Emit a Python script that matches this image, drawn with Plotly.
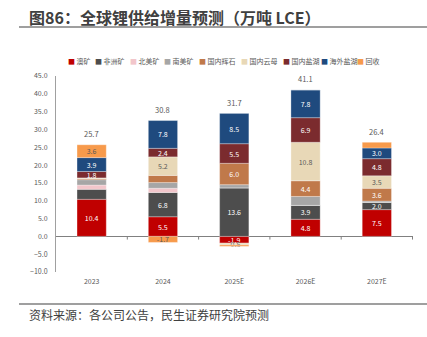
import plotly.graph_objects as go

years = ['2023', '2024', '2025E', '2026E', '2027E']
series_names = ['澳矿', '非洲矿', '北美矿', '南美矿', '国内辉石', '国内云母', '国内盐湖', '海外盐湖', '回收']
aus = [10.4, 5.5, -1.9, 4.8, 7.5]
africa = [2.8, 6.8, 13.6, 3.9, 2.0]
north_am = [1.2, 1.2, 0.0, 0.0, 0.0]
south_am = [1.5, 1.6, 0.9, 2.5, 0.4]
dom_spod = [0.3, 2.0, 6.0, 4.4, 3.6]
dom_mica = [0.2, 5.2, -0.5, 10.8, 3.5]
dom_salt = [1.8, 2.4, 5.5, 6.9, 4.8]
ovs_salt = [3.9, 7.8, 8.5, 7.8, 3.0]
recycle = [3.6, -1.7, -0.4, 0.0, 1.6]
totals = [25.7, 30.8, 31.7, 41.1, 26.4]

# which segment values carry a data label in the original
label_mask = [
    [1, 1, 1, 1, 1],
    [0, 1, 1, 1, 1],
    [0, 0, 0, 0, 0],
    [0, 0, 0, 0, 0],
    [0, 0, 1, 1, 1],
    [0, 1, 1, 1, 1],
    [1, 1, 1, 1, 1],
    [1, 1, 1, 1, 1],
    [1, 1, 0, 0, 0],
]

series = [aus, africa, north_am, south_am, dom_spod, dom_mica, dom_salt, ovs_salt, recycle]
colors = ['#C00000', '#4D4D4D', '#F2C6CB', '#A6A6A6', '#C0794A', '#E8D8B7', '#7B2B2E', '#1F4A7E', '#F79A4B']
text_colors = ['#FFFFFF', '#FFFFFF', '#595959', '#FFFFFF', '#FFFFFF', '#595959', '#FFFFFF', '#FFFFFF', '#595959']

FONT = 'Noto Sans CJK SC'
fig = go.Figure()
for name, vals, col, tcol, mask in zip(series_names, series, colors, text_colors, label_mask):
    txt = [f'{v:.1f}' if m else '' for v, m in zip(vals, mask)]
    fig.add_trace(go.Bar(
        x=years, y=vals, name=name, marker=dict(color=col, line=dict(color='rgba(255,255,255,0.6)', width=0.5)),
        text=txt, textposition='inside', insidetextanchor='middle', textangle=0,
        textfont=dict(size=7, color=tcol, family=FONT), showlegend=False, hoverinfo='skip'))

L, R, T, B = 56, 14, 76, 65
W, H = 427, 337
PW, PH = W - L - R, H - T - B

def px_x(px):
    return (px - L) / PW

def px_y(py):
    return (H - B - py) / PH

annotations = []
# total labels above the positive stack
pos_top = [sum(max(s[i], 0) for s in series) for i in range(len(years))]
for i, (top, tot) in enumerate(zip(pos_top, totals)):
    annotations.append(dict(
        xref='x', yref='y', x=i, y=top, yanchor='middle', yshift=11, showarrow=False,
        text=f'{tot:.1f}', font=dict(size=7.5, color='#595959', family=FONT)))
# manual legend
legend_x_px = [66, 93, 128, 162, 197, 239, 281, 319, 355]
for name, col, lx in zip(series_names, colors, legend_x_px):
    annotations.append(dict(
        xref='paper', yref='paper', x=px_x(lx), y=px_y(61), xanchor='left', yanchor='middle',
        text=f'<span style="color:{col}">■</span><span style="color:#595959"> {name}</span>',
        showarrow=False, font=dict(size=7, family=FONT)))
# title
annotations.append(dict(
    xref='paper', yref='paper', x=px_x(27), y=px_y(17), xanchor='left', yanchor='middle',
    text='<b>图86：全球锂供给增量预测（万吨 LCE）</b>', showarrow=False,
    font=dict(size=16, color='#404040', family=FONT)))
# source
annotations.append(dict(
    xref='paper', yref='paper', x=px_x(27), y=px_y(314), xanchor='left', yanchor='middle',
    text='资料来源：各公司公告，民生证券研究院预测', showarrow=False,
    font=dict(size=12, color='#404040', family=FONT)))

shapes = [
    dict(type='line', xref='paper', yref='paper', x0=px_x(19), x1=px_x(427), y0=px_y(27), y1=px_y(27),
         line=dict(color='#7F7F7F', width=1.5)),
    dict(type='line', xref='paper', yref='paper', x0=px_x(19), x1=px_x(427), y0=px_y(304), y1=px_y(304),
         line=dict(color='#7F7F7F', width=1.5)),
]
for i in range(len(years)):
    shapes.append(dict(type='line', xref='x', yref='y', x0=i + 0.5, x1=i + 0.5, y0=0, y1=-0.9,
                       line=dict(color='#808080', width=1)))

fig.update_layout(
    width=W, height=H, margin=dict(l=L, r=R, t=T, b=B),
    barmode='relative', bargap=0.59,
    plot_bgcolor='white', paper_bgcolor='white',
    font=dict(family=FONT, color='#595959'),
    uniformtext=dict(minsize=7, mode='show'),
    annotations=annotations, shapes=shapes,
    xaxis=dict(type='category', showgrid=False, showline=False, ticks='',
               tickfont=dict(size=7, color='#595959'), ticklabelstandoff=4),
    yaxis=dict(range=[-10, 45], dtick=5, tickformat='.1f', showgrid=False,
               showline=True, linecolor='#A0A0A0', linewidth=1,
               zeroline=True, zerolinecolor='#808080', zerolinewidth=1,
               tickfont=dict(size=7, color='#595959'), ticklabelstandoff=6),
)

fig.write_html('out.html')
